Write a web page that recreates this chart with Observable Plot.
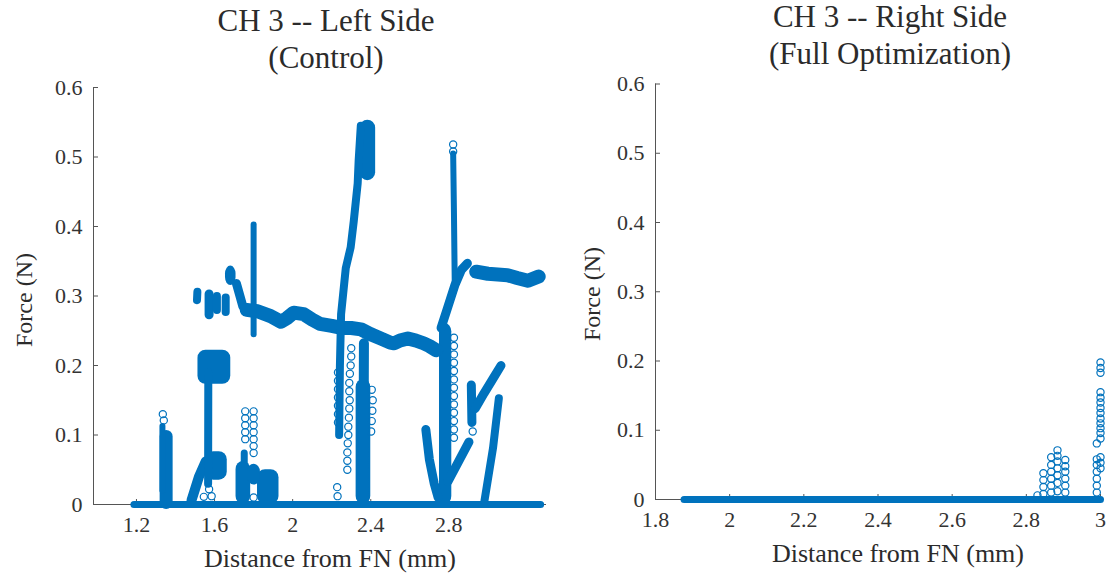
<!DOCTYPE html>
<html><head><meta charset="utf-8">
<script src="https://cdn.jsdelivr.net/npm/d3@7"></script>
<script src="https://cdn.jsdelivr.net/npm/@observablehq/plot@0.6"></script>
<style>
html,body{margin:0;padding:0;background:#fff;}
#root{position:relative;width:1109px;height:577px;overflow:hidden;font-family:'Liberation Serif','DejaVu Serif',serif;color:#2b2b2b;background:#fff;}
.panel{position:absolute;top:0;}
.title{position:absolute;width:520px;text-align:center;font-size:31px;line-height:37px;white-space:pre;font-family:'Liberation Serif','DejaVu Serif',serif;}
.xlabel{position:absolute;font-size:26px;line-height:26px;white-space:nowrap;transform:translateX(-50%);font-family:'Liberation Serif','DejaVu Serif',serif;}
.ylabel{position:absolute;font-size:24px;line-height:24px;white-space:nowrap;transform:translate(-50%,-50%) rotate(-90deg);font-family:'Liberation Serif','DejaVu Serif',serif;}
</style></head>
<body><div id="root"></div>
<script>
// ---------- tick labels ----------
const yTicks = [0, 0.1, 0.2, 0.3, 0.4, 0.5, 0.6];
const leftXTicks = [1.2, 1.6, 2, 2.4, 2.8];
const rightXTicks = [1.8, 2, 2.2, 2.4, 2.6, 2.8, 3];

// ---------- LEFT panel (Control): dense traces [x, force] ----------
const L_baseline = [[1.187, 0], [3.27, 0]];
const L_spike135 = [[1.352, 0.003], [1.352, 0.098]];
const L_spike135edge = [[1.333, 0.02], [1.333, 0.113]];
const L_ramp150 = [[1.482, 0.006], [1.52, 0.04], [1.555, 0.062]];
const L_col157 = [[1.567, 0.03], [1.568, 0.19]];
const L_bump175 = [[1.752, 0.058], [1.752, 0.074]];
const L_spike180 = [[1.80, 0.245], [1.80, 0.403]];
const L_band151 = [[1.51, 0.294], [1.512, 0.306]];
const L_band157 = [[1.572, 0.273], [1.572, 0.303]];
const L_band161 = [[1.612, 0.28], [1.612, 0.30]];
const L_band166 = [[1.657, 0.277], [1.657, 0.298]];
const L_band172 = [[1.712, 0.318], [1.73, 0.30], [1.745, 0.285]];
const L_band = [[1.765, 0.28], [1.82, 0.278], [1.887, 0.271], [1.94, 0.263], [1.97, 0.268], [2.005, 0.276],
  [2.056, 0.274], [2.10, 0.266], [2.14, 0.26], [2.2, 0.257], [2.25, 0.254], [2.30, 0.254], [2.35, 0.252],
  [2.40, 0.245], [2.45, 0.239], [2.5, 0.233], [2.52, 0.232], [2.55, 0.236], [2.59, 0.239], [2.63, 0.236],
  [2.67, 0.232], [2.70, 0.228], [2.735, 0.222]];
const L_spike1Slant = [[2.238, 0.10], [2.242, 0.2], [2.248, 0.274], [2.272, 0.34], [2.297, 0.37], [2.313, 0.408],
  [2.333, 0.462], [2.338, 0.495], [2.349, 0.545]];
const L_spike1Col = [[2.362, 0.005], [2.365, 0.232]];
const L_spike2Thin = [[2.83, 0.32], [2.826, 0.42], [2.822, 0.505]];
const L_spike2Link = [[2.76, 0.254], [2.79, 0.28], [2.83, 0.315], [2.865, 0.338], [2.895, 0.347]];
const L_bandRight = [[2.94, 0.335], [3.0, 0.332], [3.05, 0.331], [3.1, 0.33], [3.15, 0.326], [3.205, 0.322], [3.26, 0.328]];
const L_vLeft = [[2.682, 0.108], [2.70, 0.065], [2.725, 0.03], [2.745, 0.01]];
const L_vRight = [[2.795, 0.033], [2.85, 0.062], [2.903, 0.09]];
const L_nLeft = [[2.915, 0.172], [2.918, 0.118]];
const L_nDiag = [[2.935, 0.138], [2.98, 0.16], [3.03, 0.183], [3.067, 0.2]];
const L_slant305 = [[2.982, 0.005], [3.026, 0.081], [3.056, 0.153]];

// dense clusters [x1, x2, y1, y2]
const L_blobs = [
  [1.515, 1.683, 0.173, 0.222],
  [1.555, 1.665, 0.035, 0.076],
  [1.71, 1.785, 0, 0.062],
  [1.82, 1.93, 0, 0.05],
  [1.77, 1.835, 0.028, 0.058],
  [2.345, 2.425, 0.466, 0.553],
  [1.656, 1.71, 0.315, 0.343],
  [2.752, 2.815, 0, 0.26],
  [2.325, 2.40, 0, 0.18]
];

// isolated circles
const L_dots = [
  [1.335, 0.13], [1.34, 0.121],
  [1.757, 0.134], [1.757, 0.124], [1.757, 0.114], [1.757, 0.104], [1.757, 0.094],
  [1.80, 0.134], [1.80, 0.124], [1.80, 0.114], [1.80, 0.104], [1.80, 0.094], [1.80, 0.084], [1.80, 0.074],
  [1.545, 0.011], [1.572, 0.022], [1.585, 0.012], [1.80, 0.01],
  [2.232, 0.19], [2.232, 0.178], [2.232, 0.166], [2.232, 0.154], [2.232, 0.142], [2.232, 0.13], [2.232, 0.118],
  [2.228, 0.025], [2.23, 0.012],
  [2.30, 0.225], [2.30, 0.213], [2.297, 0.2], [2.293, 0.188], [2.29, 0.175], [2.29, 0.163], [2.292, 0.15],
  [2.29, 0.138], [2.288, 0.125], [2.285, 0.112], [2.285, 0.1], [2.282, 0.088], [2.28, 0.075], [2.28, 0.063], [2.28, 0.05],
  [2.405, 0.165], [2.41, 0.15], [2.408, 0.135], [2.405, 0.12], [2.402, 0.105],
  [2.826, 0.24], [2.826, 0.228], [2.826, 0.216], [2.826, 0.204], [2.826, 0.192], [2.826, 0.18], [2.826, 0.168],
  [2.826, 0.156], [2.826, 0.144], [2.826, 0.132], [2.826, 0.12], [2.826, 0.108], [2.826, 0.096],
  [2.822, 0.518], [2.822, 0.508],
  [2.922, 0.105]
];

// ---------- RIGHT panel (Full Optimization) ----------
const R_baseline = [[1.877, 0], [3.0, 0]];
const R_dots = [
  [2.83, 0.006],
  [2.846, 0.008], [2.846, 0.018], [2.846, 0.028], [2.846, 0.038],
  [2.867, 0.01], [2.867, 0.02], [2.867, 0.03], [2.867, 0.04], [2.867, 0.05], [2.867, 0.061],
  [2.884, 0.012], [2.884, 0.024], [2.884, 0.035], [2.884, 0.045], [2.884, 0.055], [2.884, 0.063], [2.884, 0.071],
  [2.905, 0.01], [2.905, 0.02], [2.905, 0.03], [2.905, 0.04], [2.905, 0.048], [2.905, 0.057],
  [2.99, 0.01], [2.99, 0.02], [2.99, 0.03], [2.99, 0.04], [2.99, 0.05], [2.99, 0.058], [2.99, 0.081],
  [3.0, 0.198], [3.0, 0.19], [3.0, 0.183], [3.0, 0.155], [3.0, 0.147], [3.0, 0.14], [3.0, 0.132], [3.0, 0.125],
  [3.0, 0.117], [3.0, 0.11], [3.0, 0.103], [3.0, 0.096], [3.0, 0.088], [3.0, 0.061], [3.0, 0.053], [3.0, 0.045]
];

// ---------- drawing ----------
const BLUE = "#0072BD";
const AXIS = "#555";
const FONT = "'Liberation Serif','DejaVu Serif',serif";
const fmt = d => String(d);

const leftTraces = [
  [L_baseline, 7], [L_spike135, 13], [L_spike135edge, 6], [L_ramp150, 10], [L_col157, 8], [L_bump175, 7],
  [L_spike180, 6], [L_band151, 8], [L_band157, 9], [L_band161, 8], [L_band166, 8], [L_band172, 9],
  [L_band, 14], [L_spike1Slant, 8], [L_spike1Col, 10], [L_spike2Thin, 6], [L_spike2Link, 9],
  [L_bandRight, 14], [L_vLeft, 9], [L_vRight, 9], [L_nLeft, 9], [L_nDiag, 9], [L_slant305, 8]
];
const rightTraces = [[R_baseline, 7]];

function panel({xDomain, xTicks, traces, blobs, dots, width, marginLeft, marginRight, marginTop, marginBottom}) {
  const marks = [
    Plot.ruleX([xDomain[0]], {stroke: AXIS, strokeWidth: 1}),
    Plot.ruleY([0], {stroke: AXIS, strokeWidth: 1}),
    Plot.axisX(xTicks, {anchor: "bottom", tickSize: -5, tickPadding: 17, tickFormat: fmt, label: null, stroke: AXIS, fontFamily: FONT}),
    Plot.axisY(yTicks, {anchor: "left", tickSize: -5, tickPadding: 16, tickFormat: fmt, label: null, stroke: AXIS, fontFamily: FONT}),
    Plot.rect(blobs, {x1: d => d[0], x2: d => d[1], y1: d => d[2], y2: d => d[3], fill: BLUE, rx: 8}),
    ...traces.map(([pts, w]) => Plot.line(pts, {x: d => d[0], y: d => d[1], stroke: BLUE, strokeWidth: w,
      strokeLinecap: "round", strokeLinejoin: "round"})),
    Plot.dot(dots, {x: d => d[0], y: d => d[1], r: 3.6, stroke: BLUE, strokeWidth: 1.2, fill: "none"})
  ];
  return Plot.plot({
    width, height: 577, marginLeft, marginRight, marginTop, marginBottom,
    x: {domain: xDomain}, y: {domain: [0, 0.6]},
    style: {fontFamily: FONT, fontSize: "22px", color: "#333", background: "transparent", overflow: "visible"},
    marks
  });
}

const root = document.getElementById("root");

const left = panel({xDomain: [0.98, 3.30], xTicks: leftXTicks, traces: leftTraces, blobs: L_blobs, dots: L_dots,
  width: 560, marginLeft: 93, marginRight: 14, marginTop: 87, marginBottom: 73});
left.classList.add("panel"); left.style.left = "0px";
root.appendChild(left);

const right = panel({xDomain: [1.8, 3.0], xTicks: rightXTicks, traces: rightTraces, blobs: [], dots: R_dots,
  width: 549, marginLeft: 95, marginRight: 9, marginTop: 83.5, marginBottom: 78});
right.classList.add("panel"); right.style.left = "560px";
root.appendChild(right);

function addText(cls, text, css) {
  const d = document.createElement("div");
  d.className = cls; d.textContent = text;
  Object.assign(d.style, css);
  root.appendChild(d);
}
addText("title", "CH 3 -- Left Side\n(Control)", {left: (326 - 260) + "px", top: "2px"});
addText("title", "CH 3 -- Right Side\n(Full Optimization)", {left: (890 - 260) + "px", top: "-2px"});
addText("xlabel", "Distance from FN (mm)", {left: "330px", top: "546px"});
addText("xlabel", "Distance from FN (mm)", {left: "898px", top: "541px"});
addText("ylabel", "Force (N)", {left: "24px", top: "300px"});
addText("ylabel", "Force (N)", {left: "592px", top: "294px"});
</script></body></html>
